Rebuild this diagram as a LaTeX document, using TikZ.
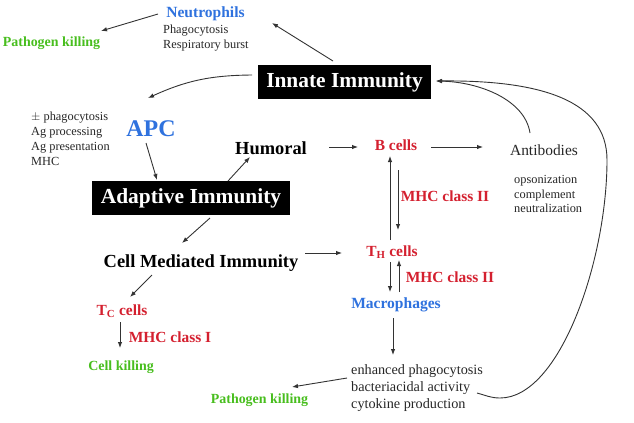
\documentclass[tikz,border=0pt]{standalone}
\usepackage{fontspec}
\setmainfont{Liberation Serif}
\usepackage{xcolor}
\usetikzlibrary{positioning, arrows.meta, calc}

\definecolor{cellblue}{HTML}{2F72DE}
\definecolor{cellred}{HTML}{D4202F}
\definecolor{killgreen}{HTML}{48BE1E}
\definecolor{linegray}{HTML}{333333}

\begin{document}
\begin{tikzpicture}[x=1bp, y=-1bp,
  immbox/.style={fill=black, text=white, font=\fontsize{21.5}{24}\selectfont\bfseries,
    inner xsep=8.5bp, inner ysep=0pt, minimum height=34bp},
  headtxt/.style={font=\fontsize{18.5}{20}\selectfont\bfseries, inner sep=0pt},
  celltxt/.style={text=cellred, font=\fontsize{15.5}{18}\selectfont\bfseries, inner sep=0pt},
  phagotxt/.style={text=cellblue, font=\fontsize{15.6}{18}\selectfont\bfseries, inner sep=0pt},
  killtxt/.style={text=killgreen, font=\fontsize{14}{16}\selectfont\bfseries, inner sep=0pt},
  notetxt/.style={text=black!85, font=\fontsize{12.4}{15}\selectfont, align=left, anchor=west, inner sep=0pt},
  arr/.style={draw=linegray, line width=0.9bp, -{Latex[length=6bp,width=4.5bp]}},
]
\useasboundingbox (0,0) rectangle (634,422);

% boxes
\node[immbox] (innate) at (344.5,82) {Innate Immunity};
\node[immbox] (adaptive) at (191,198) {Adaptive Immunity};

% innate side
\node[phagotxt] (neutro) at (205.5,14) {Neutrophils};
\node[notetxt] (neutrofx) at (163,38) {Phagocytosis\\Respiratory burst};
\node[killtxt] (pathtop) at (51.5,43) {Pathogen killing};
\node[notetxt] (apcfx) at (31,139) {$\pm$ phagocytosis\\Ag processing\\Ag presentation\\MHC};
\node[phagotxt, font=\fontsize{24}{26}\selectfont\bfseries] (apc) at (151,129) {APC};

% humoral branch
\node[headtxt] (humoral) at (271,148) {Humoral};
\node[celltxt] (bcells) at (396,145) {B cells};
\node[text=black!85, font=\fontsize{15.5}{18}\selectfont, inner sep=0pt] (antib) at (544,150) {Antibodies};
\node[notetxt] (antibfx) at (514,194) {opsonization\\complement\\neutralization};
\node[celltxt] (mhcb) at (445,196) {MHC class II};

% cell mediated branch
\node[headtxt] (cmi) at (201,263) {Cell Mediated Immunity};
\node[celltxt] (thcells) at (392,252) {T\textsubscript{H} cells};
\node[celltxt] (mhcm) at (450,277) {MHC class II};
\node[phagotxt] (macro) at (396,305) {Macrophages};
\node[notetxt, font=\fontsize{14.3}{17}\selectfont] (macrofx) at (351,388) {enhanced phagocytosis\\bacteriacidal activity\\cytokine production};
\node[killtxt] (pathbot) at (259.5,400) {Pathogen killing};
\node[celltxt] (tccells) at (122,311) {T\textsubscript{C} cells};
\node[celltxt] (mhct) at (170,337) {MHC class I};
\node[killtxt] (cellkill) at (121,367) {Cell killing};

% arrows
\draw[arr] ([shift={(-11.5,-21)}]innate.center) -- ([shift={(66.5,9)}]neutro.center);
\draw[arr] ([shift={(-47.5,0)}]neutro.center) -- ([shift={(49.5,-12)}]pathtop.center);
\draw[arr] ([shift={(-92.5,-7)}]innate.center) to[bend right=12] ([shift={(-3,-31)}]apc.center);
\draw[arr] ([shift={(-5,14)}]apc.center) -- ([shift={(-34,-18)}]adaptive.center);
\draw[arr] ([shift={(37,-17)}]adaptive.center) -- ([shift={(-21,9)}]humoral.center);
\draw[arr] ([shift={(58,-1)}]humoral.center) -- ([shift={(-38,2)}]bcells.center);
\draw[arr] ([shift={(35,2)}]bcells.center) -- ([shift={(-61,-3)}]antib.center);
\draw[arr] ([shift={(-2,-12)}]thcells.center) -- ([shift={(-6,11)}]bcells.center);
\draw[arr] ([shift={(2,25)}]bcells.center) -- ([shift={(6,-22)}]thcells.center);
\draw[arr] ([shift={(19,20)}]adaptive.center) -- ([shift={(-19,-20)}]cmi.center);
\draw[arr] ([shift={(104,-10)}]cmi.center) -- ([shift={(-50,1)}]thcells.center);
\draw[arr] ([shift={(-2,10)}]thcells.center) -- ([shift={(-6,-13)}]macro.center);
\draw[arr] ([shift={(3,-13)}]macro.center) -- ([shift={(7,8)}]thcells.center);
\draw[arr] ([shift={(-3,13)}]macro.center) -- ([shift={(42,-33)}]macrofx.west);
\draw[arr] ([shift={(-4,-10)}]macrofx.west) -- ([shift={(32.5,-13)}]pathbot.center);
\draw[arr] ([shift={(-49,12)}]cmi.center) -- ([shift={(8,-14)}]tccells.center);
\draw[arr] ([shift={(-2,11)}]tccells.center) -- ([shift={(-1,-19)}]cellkill.center);

% feedback to innate
\draw[arr] ([shift={(-14,-17)}]antib.center) .. controls (525,100) and (480,82) .. ([shift={(91.5,-1)}]innate.center);
\draw[arr] ([shift={(126,5)}]macrofx.west) to[out=-15,in=180] (500,398)
  .. controls (560,398) and (607,260) .. (607,160)
  .. controls (607,100) and (540,80) .. ([shift={(91.5,-1)}]innate.center);
\end{tikzpicture}
\end{document}
